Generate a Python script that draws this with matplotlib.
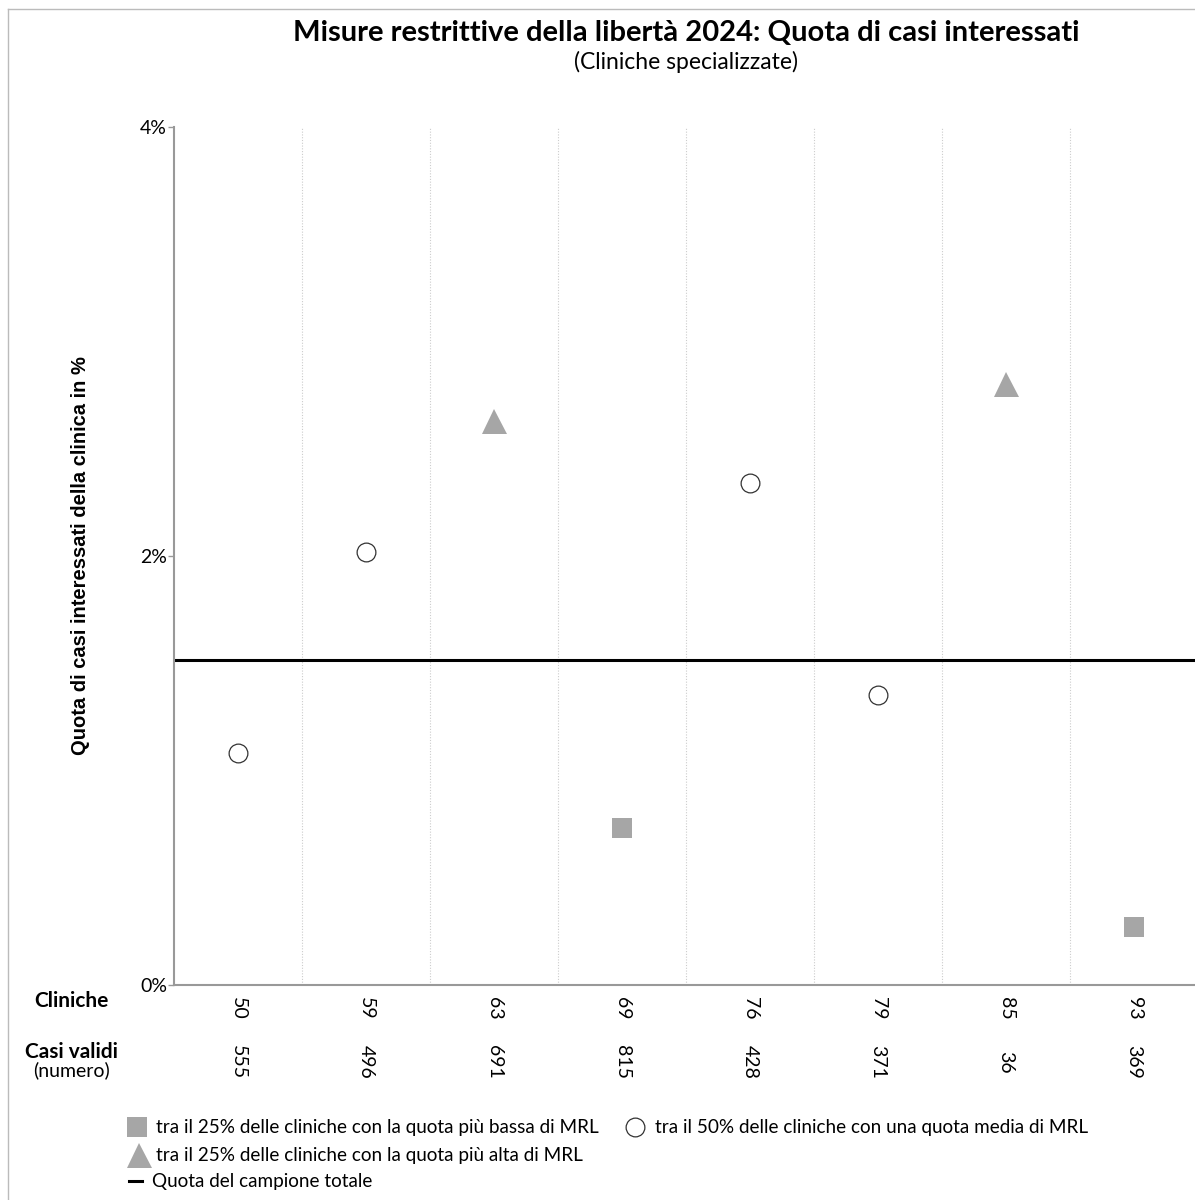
import matplotlib
matplotlib.use("Agg")
import matplotlib.pyplot as plt
from matplotlib.lines import Line2D
from matplotlib.ticker import FuncFormatter

# dati
cliniche = ["50", "59", "63", "69", "76", "79", "85", "93"]
casi_validi = ["555", "496", "691", "815", "428", "371", "36", "369"]
quota = [1.08, 2.02, 2.63, 0.73, 2.34, 1.35, 2.80, 0.27]
gruppo = ["media", "media", "alta", "bassa", "media", "media", "alta", "bassa"]
quota_totale = 1.515

GRIGIO = "#a6a6a6"
stili = {
    "bassa": dict(marker="s", markersize=14.5, markerfacecolor=GRIGIO, markeredgecolor=GRIGIO, markeredgewidth=0),
    "media": dict(marker="o", markersize=13.5, markerfacecolor="white", markeredgecolor="#333333", markeredgewidth=0.9),
    "alta": dict(marker="^", markersize=18, markerfacecolor=GRIGIO, markeredgecolor=GRIGIO, markeredgewidth=0),
}

plt.rcParams["font.family"] = ["Lato", "DejaVu Sans"]

fig = plt.figure(figsize=(11.95, 12), dpi=100)
W, H = 1195, 1200
ax = fig.add_axes([174 / W, 1 - 985 / H, 1 - 174 / W, (985 - 127) / H])

for i, (q, g) in enumerate(zip(quota, gruppo)):
    ax.plot(i, q, linestyle="none", zorder=3, **stili[g])

ax.axhline(quota_totale, color="black", linewidth=2.2, zorder=2)

# linee tratteggiate tra le cliniche
for i in range(1, len(cliniche)):
    ax.axvline(i - 0.5, color="#cccccc", linewidth=0.8, linestyle=(0, (1, 1.5)), zorder=1)

ax.set_xlim(-0.5, -0.5 + (W - 174) / 128)
ax.set_ylim(0, 4)
ax.set_yticks([0, 2, 4])
ax.yaxis.set_major_formatter(FuncFormatter(lambda v, p: f"{v:.0f}%"))
ax.tick_params(axis="y", length=4, width=1, color="#999999", labelsize=14, pad=1)
ax.set_xticks(range(len(cliniche)))
ax.set_xticklabels([])
ax.tick_params(axis="x", length=0)

for s in ["top", "right"]:
    ax.spines[s].set_visible(False)
for s in ["left", "bottom"]:
    ax.spines[s].set_color("#999999")
    ax.spines[s].set_linewidth(1.5)

ax.set_ylabel("Quota di casi interessati della clinica in %", family=["Liberation Sans", "DejaVu Sans"],
              fontweight="bold", fontsize=14.5)
ax.yaxis.set_label_coords(-(174 - 90) / 1021, 0.5)

# etichette sotto l'asse
trans = ax.get_xaxis_transform()
for i, (c, n) in enumerate(zip(cliniche, casi_validi)):
    ax.text(i, -(1008 - 985) / 858, c, transform=trans, rotation=-90, ha="center", va="center", fontsize=14)
    ax.text(i, -(1062 - 985) / 858, n, transform=trans, rotation=-90, ha="center", va="center", fontsize=14)

fig.text(71 / W, 1 - 1001 / H, "Cliniche", ha="center", va="center", fontsize=15, fontweight="bold")
fig.text(71 / W, 1 - 1052 / H, "Casi validi", ha="center", va="center", fontsize=15, fontweight="bold")
fig.text(71 / W, 1 - 1070 / H, "(numero)", ha="center", va="center", fontsize=14)

# titolo
fig.text(686 / W, 1 - 33 / H, "Misure restrittive della libertà 2024: Quota di casi interessati",
         ha="center", va="center", fontsize=21, fontweight="bold")
fig.text(686 / W, 1 - 62 / H, "(Cliniche specializzate)", ha="center", va="center", fontsize=16.5)

# legenda
voci = [
    (137, 1127, stili["bassa"], "tra il 25% delle cliniche con la quota più bassa di MRL", 156),
    (635, 1127, stili["media"], "tra il 50% delle cliniche con una quota media di MRL", 655),
    (139, 1155, stili["alta"], "tra il 25% delle cliniche con la quota più alta di MRL", 156),
]
for mx, my, st, testo, tx in voci:
    fig.add_artist(Line2D([mx / W], [1 - my / H], transform=fig.transFigure, linestyle="none", **st))
    fig.text(tx / W, 1 - my / H, testo, ha="left", va="center", fontsize=13.6)
fig.add_artist(Line2D([129 / W, 142 / W], [1 - 1181 / H] * 2, transform=fig.transFigure, color="black", linewidth=2.2))
fig.text(152 / W, 1 - 1181 / H, "Quota del campione totale", ha="left", va="center", fontsize=13.6)

# cornice
fig.add_artist(Line2D([8 / W, 1], [1 - 9 / H] * 2, transform=fig.transFigure, color="#bbbbbb", linewidth=1))
fig.add_artist(Line2D([8 / W] * 2, [0, 1 - 9 / H], transform=fig.transFigure, color="#bbbbbb", linewidth=1))

fig.savefig("out.png", dpi=100)
